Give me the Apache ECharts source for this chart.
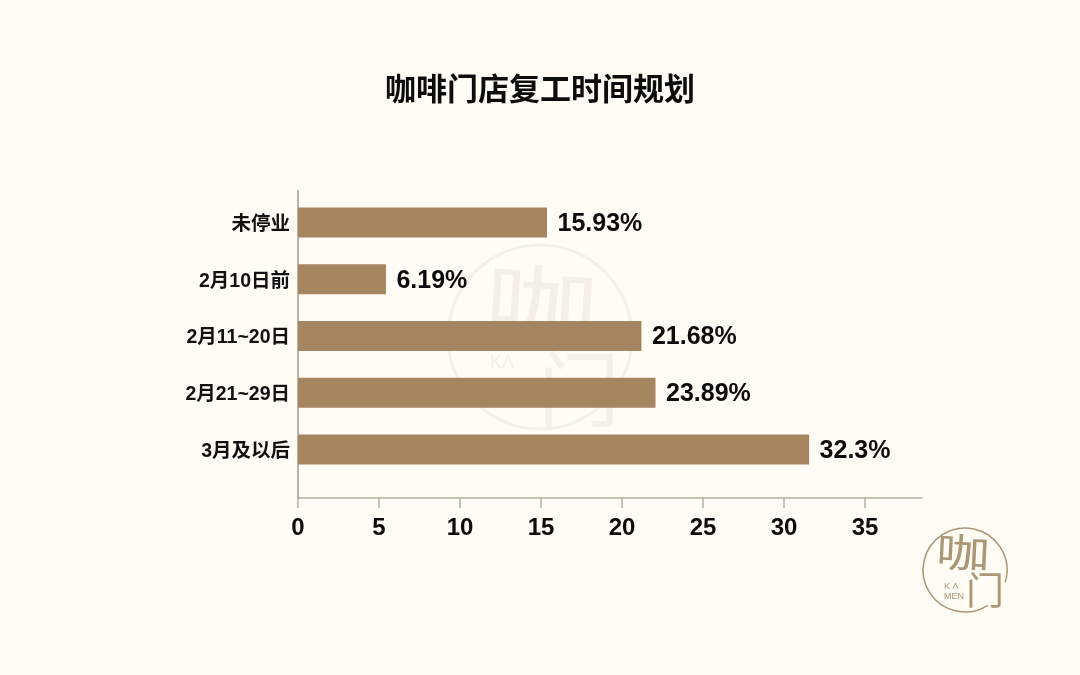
<!DOCTYPE html>
<html>
<head>
<meta charset="utf-8">
<style>html,body{margin:0;padding:0;background:#fefcf5}#c{width:1080px;height:675px}</style>
<script src="https://cdn.jsdelivr.net/npm/echarts@6/dist/echarts.min.js"></script>
</head>
<body>
<div id="c"></div>
<script>
const titleText = '咖啡门店复工时间规划';
const categories = ['未停业', '2月10日前', '2月11~20日', '2月21~29日', '3月及以后'];
// Bar lengths as drawn against the axis (they differ slightly from the printed labels)
const barValues = [15.37, 5.43, 21.2, 22.07, 31.55];
const printedLabels = ['15.93%', '6.19%', '21.68%', '23.89%', '32.3%'];
const xTicks = [0, 5, 10, 15, 20, 25, 30, 35];
const latin = '"Liberation Sans", Arial, sans-serif';
const cjk = '"Liberation Sans", "Noto Sans CJK SC", sans-serif';
const wm = '#f4f0e7', logo = '#ab9676';

const chart = echarts.init(document.getElementById('c'), null, {renderer: 'canvas'});
chart.setOption({
  animation: false,
  backgroundColor: '#fefcf5',
  title: {
    text: titleText, left: 'center', top: 64,
    textStyle: {fontFamily: '"Noto Sans CJK SC"', fontSize: 31, fontWeight: 'bold', color: '#0c0c0c', lineHeight: 38}
  },
  grid: {left: 298, right: 158, top: 194, height: 284, containLabel: false},
  xAxis: {
    type: 'value', min: 0, max: 38.52, interval: 5, offset: 20,
    splitLine: {show: false},
    axisLine: {show: true, onZero: false, lineStyle: {color: '#b5ae9f', width: 1.5}},
    axisTick: {show: true, length: 10, customValues: xTicks, lineStyle: {color: '#b5ae9f', width: 1.5}},
    axisLabel: {customValues: xTicks, margin: 18, fontFamily: latin, fontSize: 24, fontWeight: 'bold', color: '#0c0c0c'}
  },
  yAxis: {
    type: 'category', inverse: true, data: categories,
    axisLine: {show: false}, axisTick: {show: false},
    axisLabel: {
      margin: 8,
      formatter: v => '{a|' + v + '}',
      rich: {a: {padding: [4, 0, 0, 0], fontFamily: cjk, fontSize: 19.5, fontWeight: 'bold', color: '#111'}}
    }
  },
  series: [{
    type: 'bar', barWidth: 30, z: 5,
    data: barValues,
    itemStyle: {color: '#a68660'},
    label: {
      show: true, position: 'right', distance: 10.5, offset: [0, 1.5],
      fontFamily: latin, fontSize: 25, fontWeight: 'bold', color: '#0c0c0c',
      formatter: p => printedLabels[p.dataIndex]
    }
  }],
  graphic: [
    {type: 'line', z: 1, silent: true, shape: {x1: 298, y1: 190, x2: 298, y2: 498}, style: {stroke: '#8a8376', lineWidth: 1.2}},
    {type: 'circle', z: 0, silent: true, shape: {cx: 540, cy: 337, r: 92}, style: {fill: 'none', stroke: wm, lineWidth: 3}},
    {type: 'text', z: 0, silent: true, x: 487, y: 258, scaleX: 1.3, rotation: -0.06, style: {text: '咖', font: '400 88px "Noto Sans CJK SC"', fill: wm}},
    {type: 'text', z: 0, silent: true, x: 538, y: 348, style: {text: '门', font: '400 82px "Noto Sans CJK SC"', fill: wm}},
    {type: 'text', z: 0, silent: true, x: 490, y: 354, style: {text: 'KΛ', font: '18px "Liberation Sans"', fill: wm}},
    {type: 'arc', z: 0, silent: true, shape: {cx: 965, cy: 570, r: 42, startAngle: 1.0, endAngle: 6.58, clockwise: true}, style: {fill: 'none', stroke: logo, lineWidth: 1.5}},
    {type: 'text', z: 0, silent: true, x: 937, y: 531, scaleX: 1.35, rotation: -0.05, style: {text: '咖', font: '400 40px "Noto Sans CJK SC"', fill: logo}},
    {type: 'text', z: 0, silent: true, x: 966, y: 571, style: {text: '门', font: '400 38px "Noto Sans CJK SC"', fill: logo}},
    {type: 'text', z: 0, silent: true, x: 944, y: 582, style: {text: 'K Λ', font: '9px "Liberation Sans"', fill: logo}},
    {type: 'text', z: 0, silent: true, x: 944, y: 592, style: {text: 'MEN', font: '9px "Liberation Sans"', fill: logo}}
  ]
});
</script>
</body>
</html>
